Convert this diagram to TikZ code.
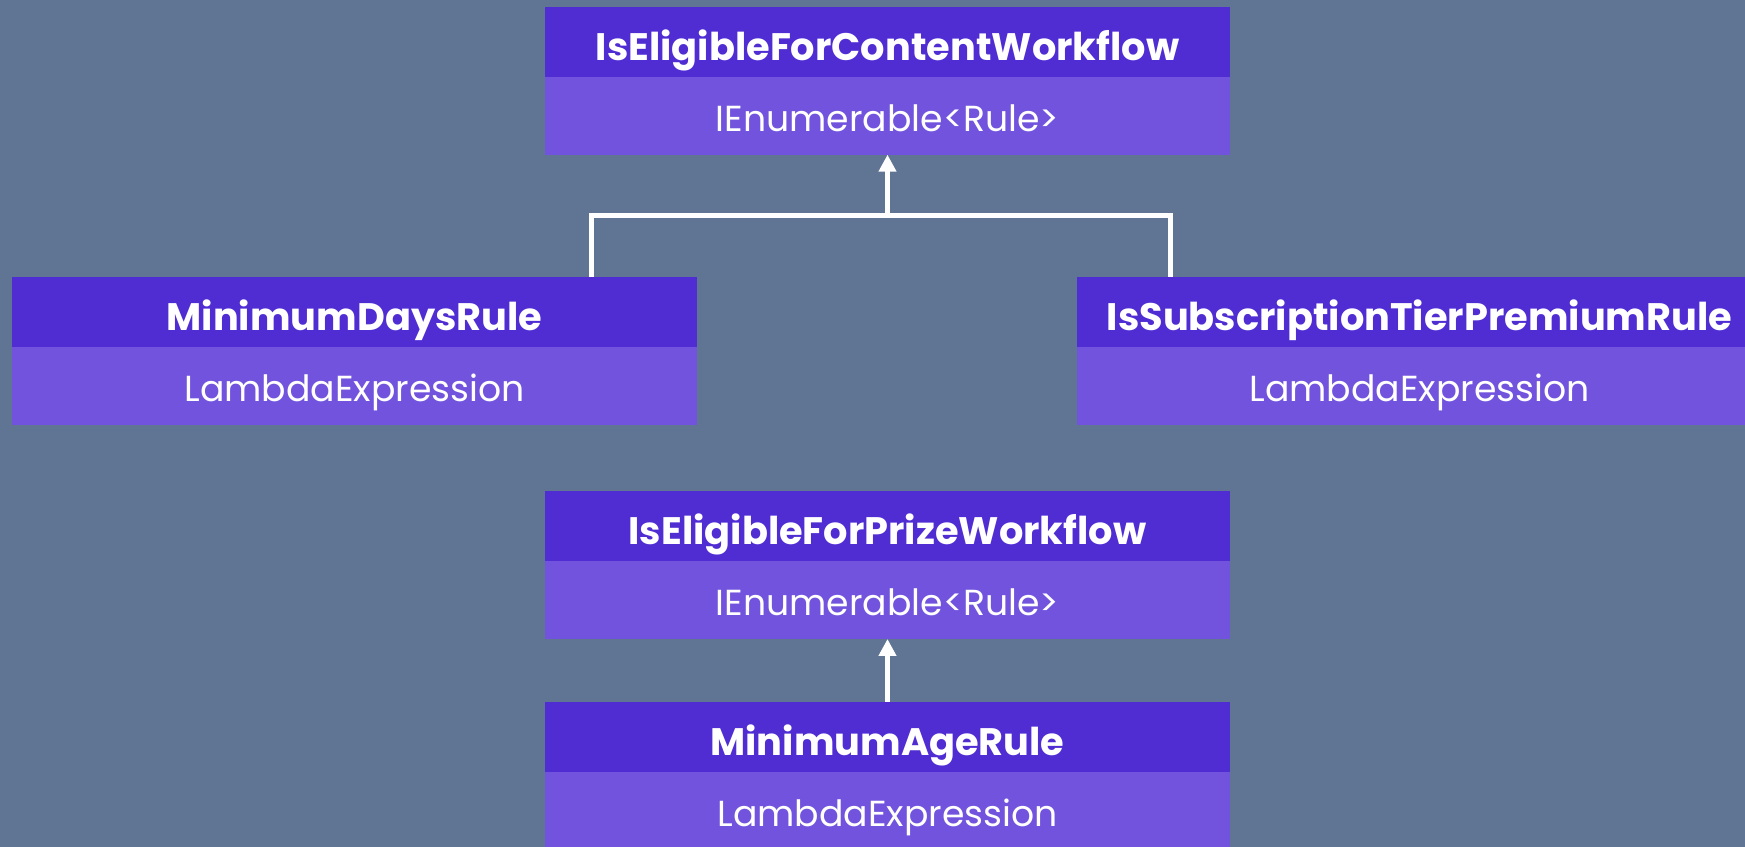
\documentclass[tikz,border=0pt]{standalone}
\usepackage{fontspec}
\setmainfont{Poppins}
\usetikzlibrary{positioning,arrows.meta}
\definecolor{slate}{HTML}{5F7593}
\definecolor{headc}{HTML}{502CD3}
\definecolor{bodyc}{HTML}{7253DE}
\begin{document}
\begin{tikzpicture}[>={Triangle[width=0.17cm,length=0.17cm]},
	head/.style={fill=headc, text=white, minimum width=6.85cm, minimum height=0.70cm, inner sep=0pt, outer sep=0pt, text height=0.47cm, text depth=0.09cm, font=\fontsize{10.9}{12}\selectfont\bfseries},
	body/.style={fill=bodyc, text=white, minimum width=6.85cm, minimum height=0.78cm, inner sep=0pt, outer sep=0pt, text height=0.40cm, text depth=0.084cm, font=\fontsize{10.3}{12}\selectfont},
	link/.style={draw=white, line width=0.05cm}]
		\fill[slate] (0,0) rectangle (17.45,8.47);
		\useasboundingbox (0,0) rectangle (17.45,8.47);
		\foreach \n/\x/\y/\t/\b in {content/8.875/8.053/IsEligibleForContentWorkflow/IEnumerable<Rule>, days/3.545/5.35/MinimumDaysRule/LambdaExpression, tier/14.195/5.35/IsSubscriptionTierPremiumRule/LambdaExpression, prize/8.875/3.21/IsEligibleForPrizeWorkflow/IEnumerable<Rule>, age/8.875/1.10/MinimumAgeRule/LambdaExpression}{
		\node[head] (\n) at (\x,\y) {\t};
		\node[body, below=0pt of \n] (\n-b) {\b};
		}
		\coordinate (fork) at (8.875,6.31);
		\draw[link] ([xshift=2.365cm]days.north) |- (fork) -| ([xshift=-2.495cm]tier.north);
		\draw[link,->] (fork)--(content-b.south);
		\draw[link,->] (age.north)--(prize-b.south);
	\end{tikzpicture}
\end{document}
